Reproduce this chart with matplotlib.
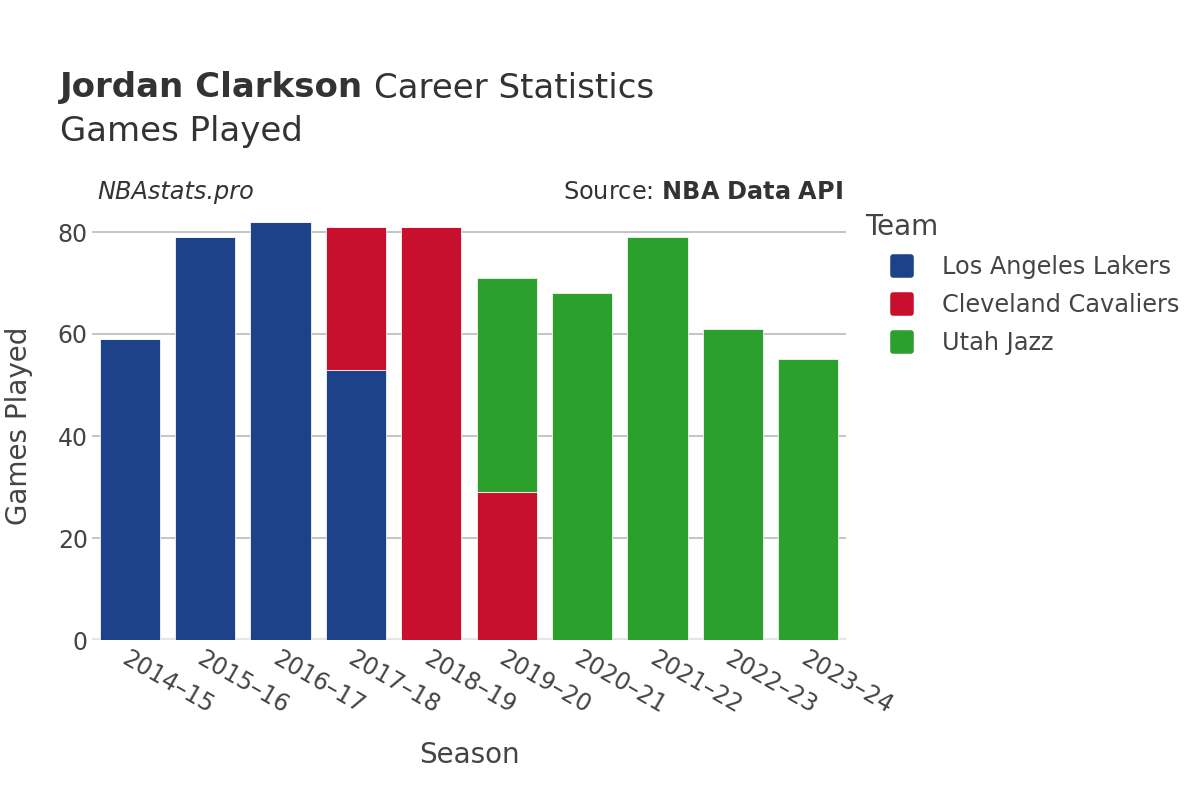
import matplotlib
matplotlib.use("Agg")
import matplotlib.pyplot as plt
from matplotlib.lines import Line2D
from matplotlib.markers import MarkerStyle
import numpy as np

seasons = ["2014–15", "2015–16", "2016–17", "2017–18", "2018–19",
           "2019–20", "2020–21", "2021–22", "2022–23", "2023–24"]
teams = ["Los Angeles Lakers", "Cleveland Cavaliers", "Utah Jazz"]
colors = ["#1d428a", "#c8102e", "#2ca02c"]
lakers = [59, 79, 82, 53, 0, 0, 0, 0, 0, 0]
cavaliers = [0, 0, 0, 28, 81, 29, 0, 0, 0, 0]
jazz = [0, 0, 0, 0, 0, 42, 68, 79, 61, 55]
series = [lakers, cavaliers, jazz]

plt.rcParams['font.family'] = ['DejaVu Sans']
fig = plt.figure(figsize=(12, 8), dpi=100)
ax = fig.add_axes([92/1200, 0.2, 754/1200, 428.4/800])

x = np.arange(len(seasons))
bottom = np.zeros(len(seasons))
for vals, c in zip(series, colors):
    v = np.array(vals, dtype=float)
    ax.bar(x, v, bottom=bottom, width=0.8, color=c, edgecolor="#f4f4f4",
           linewidth=0.6, zorder=3)
    bottom += v

ax.set_xlim(-0.5, 9.5)
ax.set_ylim(0, 84)
ax.set_yticks([0, 20, 40, 60, 80])
ax.grid(axis="y", color="#b4b4b4", linewidth=1.1, zorder=0)
ax.axhline(0, color="#e6e6e6", linewidth=3, zorder=2)
for s in ax.spines.values():
    s.set_visible(False)
ax.tick_params(axis="both", length=0, labelsize=17, labelcolor="#444444")
ax.tick_params(axis="y", pad=3)
ax.set_xticks(x)
ax.set_xticklabels(seasons, rotation=-30, ha="left", rotation_mode="anchor")
ax.tick_params(axis="x", pad=5)
ax.set_xlabel("Season", fontsize=20, color="#444444", labelpad=16)
ax.set_ylabel("Games Played", fontsize=20, color="#444444", labelpad=18)

fig.text(60/1200, 1 - 88/800, "Jordan Clarkson", fontsize=24.5, fontweight="bold",
         color="#333333", va="center", ha="left")
fig.text(374/1200, 1 - 88/800, "Career Statistics", fontsize=24.5,
         color="#333333", va="center", ha="left")
fig.text(60/1200, 1 - 132/800, "Games Played", fontsize=24.5,
         color="#333333", va="center", ha="left")
fig.text(97/1200, 1 - 192/800, "NBAstats.pro", fontsize=17.3, style="italic",
         color="#333333", va="center", ha="left")
fig.text(843/1200, 1 - 192/800, r"Source: $\bf{NBA\ Data\ API}$", fontsize=17.3,
         color="#333333", va="center", ha="right")

handles = [Line2D([0], [0], marker=MarkerStyle("s", joinstyle="round"),
                  linestyle="", markersize=13, markerfacecolor=c,
                  markeredgecolor=c, markeredgewidth=4) for c in colors]
leg = fig.legend(handles, teams, loc="upper left",
                 bbox_to_anchor=(859/1200, 1 - 236/800), frameon=False,
                 fontsize=17.3, labelcolor="#444444",
                 handletextpad=0.67, labelspacing=0.58, alignment="left",
                 borderpad=0.3)
fig.text(865/1200, 1 - 227/800, "Team", fontsize=20, color="#444444",
         va="center", ha="left")

fig.savefig("out.png", dpi=100)
